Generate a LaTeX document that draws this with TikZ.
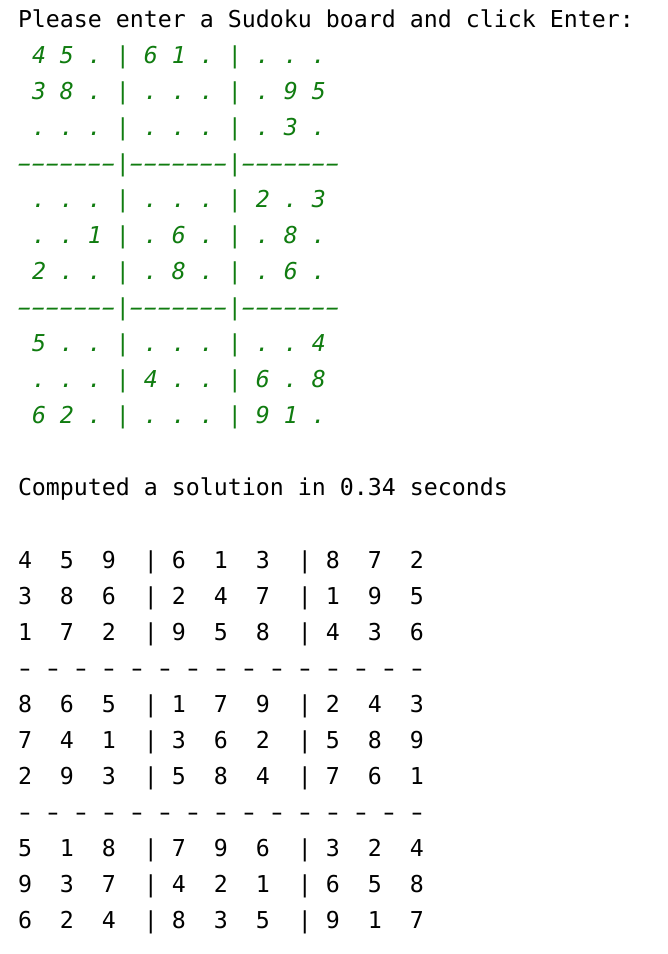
\documentclass[tikz,border=0pt]{standalone}
\usepackage{fontspec}
\usepackage{graphicx}
\newfontfamily\term{DejaVu Sans Mono}
\definecolor{termgreen}{RGB}{16,124,16}
\frenchspacing
\newcommand\gdsh{\makebox[0.602em]{\scalebox{1.85}[1]{-}}}
\newcommand\sdsh{\makebox[0.602em]{\scalebox{1.45}[1]{-}}}
\newcommand\gsep{\gdsh\gdsh\gdsh\gdsh\gdsh\gdsh\gdsh}
\begin{document}
\begin{tikzpicture}[x=0.75pt,y=-0.75pt,
  line/.style={anchor=base west,inner sep=0pt,outer sep=0pt,font=\term\fontsize{17.44pt}{27pt}\selectfont},
  inp/.style={line,text=termgreen,font=\term\itshape\fontsize{17.44pt}{27pt}\selectfont},
  outp/.style={line,text=black}]
\useasboundingbox (0,0) rectangle (668,954);
\fill[white] (0,0) rectangle (668,954);
\node[outp] (prompt) at (18,27) {Please~enter~a~Sudoku~board~and~click~Enter:};
\node[inp] (i1) at (18,63) {~4~5~.~|~6~1~.~|~.~.~.};
\node[inp] (i2) at (18,99) {~3~8~.~|~.~.~.~|~.~9~5};
\node[inp] (i3) at (18,135) {~.~.~.~|~.~.~.~|~.~3~.};
\node[inp] (i4) at (18,171) {\gsep|\gsep|\gsep};
\node[inp] (i5) at (18,207) {~.~.~.~|~.~.~.~|~2~.~3};
\node[inp] (i6) at (18,243) {~.~.~1~|~.~6~.~|~.~8~.};
\node[inp] (i7) at (18,279) {~2~.~.~|~.~8~.~|~.~6~.};
\node[inp] (i8) at (18,315) {\gsep|\gsep|\gsep};
\node[inp] (i9) at (18,351) {~5~.~.~|~.~.~.~|~.~.~4};
\node[inp] (i10) at (18,387) {~.~.~.~|~4~.~.~|~6~.~8};
\node[inp] (i11) at (18,423) {~6~2~.~|~.~.~.~|~9~1~.};
\node[outp] (msg) at (18,495) {Computed~a~solution~in~0.34~seconds};
\node[outp] (s1) at (18,568) {4~~5~~9~~|~6~~1~~3~~|~8~~7~~2};
\node[outp] (s2) at (18,604) {3~~8~~6~~|~2~~4~~7~~|~1~~9~~5};
\node[outp] (s3) at (18,640) {1~~7~~2~~|~9~~5~~8~~|~4~~3~~6};
\node[outp] (s4) at (18,676) {\sdsh~\sdsh~\sdsh~\sdsh~\sdsh~\sdsh~\sdsh~\sdsh~\sdsh~\sdsh~\sdsh~\sdsh~\sdsh~\sdsh~\sdsh};
\node[outp] (s5) at (18,712) {8~~6~~5~~|~1~~7~~9~~|~2~~4~~3};
\node[outp] (s6) at (18,748) {7~~4~~1~~|~3~~6~~2~~|~5~~8~~9};
\node[outp] (s7) at (18,784) {2~~9~~3~~|~5~~8~~4~~|~7~~6~~1};
\node[outp] (s8) at (18,820) {\sdsh~\sdsh~\sdsh~\sdsh~\sdsh~\sdsh~\sdsh~\sdsh~\sdsh~\sdsh~\sdsh~\sdsh~\sdsh~\sdsh~\sdsh};
\node[outp] (s9) at (18,856) {5~~1~~8~~|~7~~9~~6~~|~3~~2~~4};
\node[outp] (s10) at (18,892) {9~~3~~7~~|~4~~2~~1~~|~6~~5~~8};
\node[outp] (s11) at (18,928) {6~~2~~4~~|~8~~3~~5~~|~9~~1~~7};
\end{tikzpicture}
\end{document}
